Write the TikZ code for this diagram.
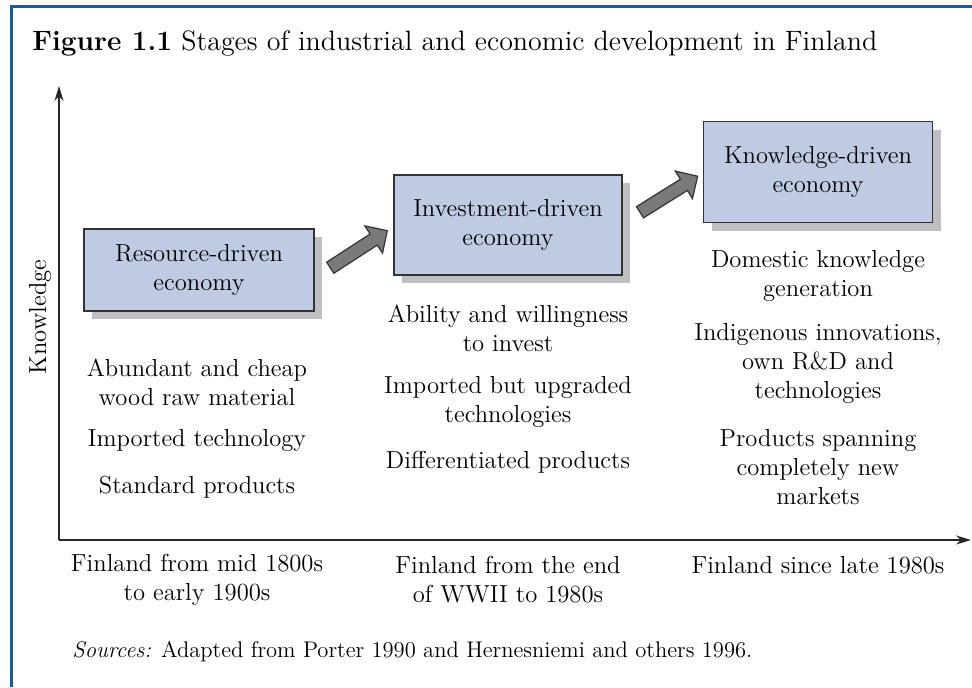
\documentclass[tikz,border=0pt]{standalone}
\usetikzlibrary{shapes.arrows,shadows,arrows.meta}
\definecolor{boxblue}{RGB}{190,203,226}
\definecolor{shadowgray}{RGB}{190,190,195}
\definecolor{arrowgray}{RGB}{122,122,125}
\definecolor{frameblue}{RGB}{22,92,160}
\tikzset{
  stage/.style={draw=black!80, line width=0.7pt, fill=boxblue, align=center,
    font=\fontsize{12.3}{14.5}\selectfont,
    drop shadow={shadow xshift=4pt, shadow yshift=-4pt, fill=shadowgray, opacity=1}},
  txt/.style={align=center, font=\fontsize{12.3}{14.5}\selectfont},
  hop/.style={single arrow, draw=black!80, line width=0.6pt, fill=arrowgray,
    inner xsep=0pt, inner ysep=3pt, single arrow head extend=4.8pt,
    minimum height=34pt}
}
\begin{document}
\begin{tikzpicture}[x=0.5pt,y=-0.5pt]
      \useasboundingbox (0,0) rectangle (972,687);
      \draw[frameblue, line width=1.5pt] (11,687) -- (11,6) -- (972,6);
      \draw
        (32,50) node[anchor=base west, inner sep=0pt, font=\fontsize{14}{17}\selectfont] (title)
          {\textbf{Figure 1.1} Stages of industrial and economic development in Finland}
        (59,540) coordinate (o)
        (59,86) coordinate (ytop)
        (971,540) coordinate (xend)
        (40,317) node[txt, rotate=90] (ylab) {Knowledge};
      \draw
        (199,270) node[stage, minimum width=115pt, minimum height=41pt] (r) {Resource-driven\\economy}
        (508,225) node[stage, minimum width=114pt, minimum height=50pt] (i) {Investment-driven\\economy}
        (818,172) node[stage, minimum width=114.5pt, minimum height=50.5pt] (k) {Knowledge-driven\\economy}
        (356,251) node[hop, rotate=33] (a1) {}
        (666,196) node[hop, rotate=32] (a2) {};
      \draw
        (197,382) node[txt] (r1) {Abundant and cheap\\wood raw material}
        (197,440) node[txt] (r2) {Imported technology}
        (197,487) node[txt] (r3) {Standard products}
        (508,328) node[txt] (i1) {Ability and willingness\\to invest}
        (508,402) node[txt] (i2) {Imported but upgraded\\technologies}
        (508,462) node[txt] (i3) {Differentiated products}
        (818,276) node[txt] (k1) {Domestic knowledge\\generation}
        (818,363) node[txt] (k2) {Indigenous innovations,\\own R\&D and\\technologies}
        (818,467) node[txt] (k3) {Products spanning\\completely new\\markets};
      \draw
        (197,580) node[txt] (p1) {Finland from mid 1800s\\to early 1900s}
        (508,580) node[txt] (p2) {Finland from the end\\of WWII to 1980s}
        (818,565) node[txt] (p3) {Finland since late 1980s}
        (72,657) node[anchor=base west, inner sep=0pt, font=\fontsize{11.3}{13}\selectfont] (src)
          {\textit{Sources:} Adapted from Porter 1990 and Hernesniemi and others 1996.};
      \begin{scope}[line width=0.7pt, black!85, -{Stealth[length=7.5pt,width=4.5pt]}]
        \draw (o) to (ytop);
        \draw (o) to (xend);
      \end{scope}
    \end{tikzpicture}
\end{document}
